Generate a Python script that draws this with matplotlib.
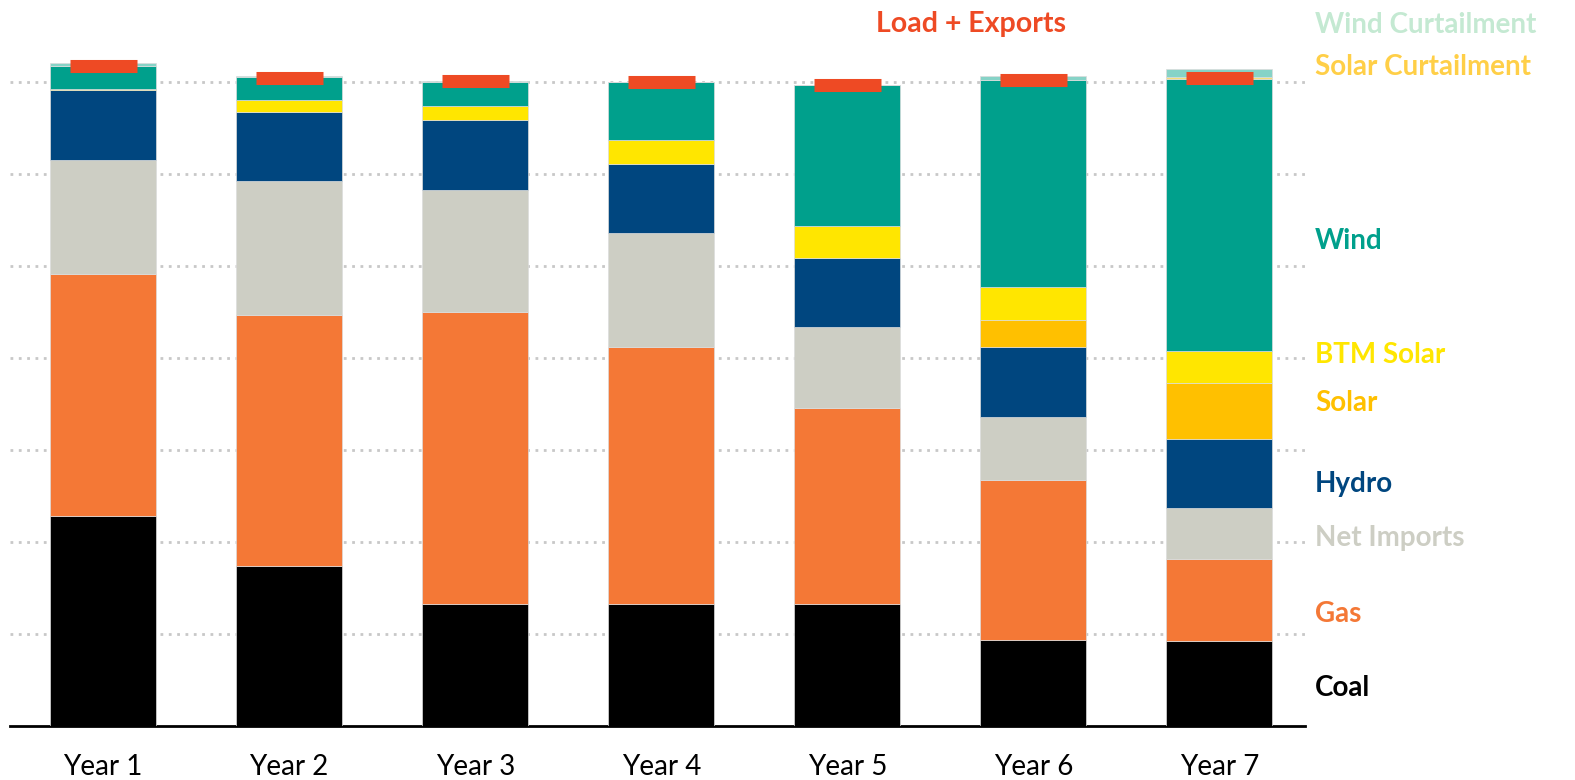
import matplotlib
matplotlib.use("Agg")
import matplotlib.pyplot as plt
import numpy as np

years = ["Year 1", "Year 2", "Year 3", "Year 4", "Year 5", "Year 6", "Year 7"]

coal       = [22.9, 17.4, 13.3, 13.3, 13.3, 9.4, 9.3]
gas        = [26.3, 27.3, 31.7, 27.9, 21.3, 17.4, 8.9]
net_imports= [12.4, 14.6, 13.3, 12.4, 8.8, 6.8, 5.5]
hydro      = [7.6, 7.5, 7.6, 7.5, 7.5, 7.6, 7.5]
solar      = [0.0, 0.0, 0.0, 0.0, 0.0, 3.0, 6.1]
btm_solar  = [0.1, 1.3, 1.5, 2.6, 3.5, 3.5, 3.5]
wind       = [2.5, 2.5, 2.6, 6.3, 15.3, 22.6, 29.6]
solar_curt = [0.0, 0.0, 0.0, 0.0, 0.0, 0.0, 0.15]
wind_curt  = [0.26, 0.1, 0.1, 0.05, 0.0, 0.43, 0.87]
load_exports = [71.8, 70.5, 70.1, 70.0, 69.7, 70.25, 70.5]

series = [
    ("Coal", coal, "#000000"),
    ("Gas", gas, "#F47836"),
    ("Net Imports", net_imports, "#CDCEC4"),
    ("Hydro", hydro, "#00467F"),
    ("Solar", solar, "#FFC000"),
    ("BTM Solar", btm_solar, "#FFE600"),
    ("Wind", wind, "#00A08C"),
    ("Solar Curtailment", solar_curt, "#F2DD7A"),
    ("Wind Curtailment", wind_curt, "#86D3C7"),
]

W, H = 1575, 780
fig = plt.figure(figsize=(W / 100, H / 100), dpi=100)
base_px = 726.3
ymax = 78
unit_px = 9.2
ax = fig.add_axes([10 / W, (H - base_px) / H, 1295 / W, ymax * unit_px / H])

x = np.arange(len(years))
bottom = np.zeros(len(years))
for name, vals, col in series:
    v = np.array(vals)
    ax.bar(x, v, width=0.57, bottom=bottom, color=col, edgecolor="#dcdcdc",
           linewidth=0.5, zorder=3)
    bottom += v

ax.hlines(load_exports, x - 0.18, x + 0.18, colors="#EE4A24", linewidth=9.4,
          zorder=5, capstyle="butt")

ax.set_xlim(-0.5, 6.46)
ax.set_ylim(0, ymax)
ax.set_yticks([10, 20, 30, 40, 50, 60, 70])
ax.yaxis.grid(True, linestyle=(0, (1, 2)), color="#c8c8c8", linewidth=2.0, zorder=0)
ax.set_axisbelow(True)
ax.tick_params(axis="y", left=False, labelleft=False)
ax.set_xticks(x)
ax.set_xticklabels(years, fontsize=20, family="Lato")
ax.tick_params(axis="x", length=0, pad=20)
for s in ["top", "right", "left"]:
    ax.spines[s].set_visible(False)
ax.spines["bottom"].set_linewidth(2)
ax.spines["bottom"].set_color("black")

labels = [
    ("Wind Curtailment", 25, "#C4E9D2"),
    ("Solar Curtailment", 67, "#FFCF47"),
    ("Wind", 241, "#00A08C"),
    ("BTM Solar", 355, "#FFE600"),
    ("Solar", 403, "#FFC000"),
    ("Hydro", 484, "#00467F"),
    ("Net Imports", 538, "#CDCEC4"),
    ("Gas", 614, "#F47836"),
    ("Coal", 688, "#000000"),
]
for txt, ypx, col in labels:
    fig.text(1315 / W, 1 - ypx / H, txt, color=col, fontsize=20, fontweight="bold",
             family="Lato", va="center", ha="left")

fig.text(971 / W, 1 - 24 / H, "Load + Exports", color="#EE4A24", fontsize=20.5,
         fontweight="bold", family="Lato", va="center", ha="center")

fig.savefig("out.png", dpi=100)
